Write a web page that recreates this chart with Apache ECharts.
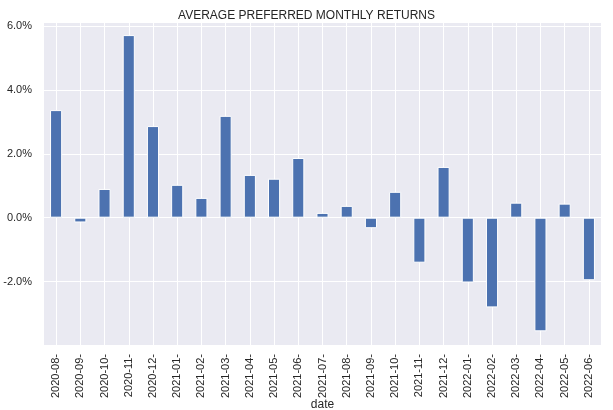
<!DOCTYPE html>
<html>
<head>
<meta charset="utf-8">
<script src="https://cdn.jsdelivr.net/npm/echarts@6/dist/echarts.min.js"></script>
<style>
html,body{margin:0;padding:0;background:#fff;}
#chart{width:613px;height:410px;}
</style>
</head>
<body>
<div id="chart"></div>
<script>
const categories = ['2020-08-','2020-09-','2020-10-','2020-11-','2020-12-','2021-01-','2021-02-','2021-03-','2021-04-','2021-05-','2021-06-','2021-07-','2021-08-','2021-09-','2021-10-','2021-11-','2021-12-','2022-01-','2022-02-','2022-03-','2022-04-','2022-05-','2022-06-'];
const returnsPct = [3.37,-0.15,0.90,5.72,2.87,1.03,0.62,3.19,1.34,1.22,1.87,0.15,0.37,-0.33,0.81,-1.41,1.59,-2.03,-2.81,0.47,-3.56,0.44,-1.96];
const yTicks = [-2, 0, 2, 4, 6];
const yMin = -4.02, yMax = 6.13;

const FONT = '"Liberation Sans", Arial, sans-serif';
const chart = echarts.init(document.getElementById('chart'), null, {renderer:'canvas'});
chart.setOption({
  animation: false,
  backgroundColor: '#ffffff',
  title: {
    text: 'AVERAGE PREFERRED MONTHLY RETURNS',
    left: 'center', top: 5,
    textStyle: {fontFamily: FONT, fontSize: 12, fontWeight: 'normal', color: '#262626'}
  },
  grid: {left: 44, right: 12, top: 22, bottom: 64, show: true, backgroundColor: '#EAEAF2', borderWidth: 0, containLabel: false, outerBoundsMode: 'none'},
  xAxis: {
    type: 'category',
    data: categories,
    boundaryGap: true,
    name: 'date', nameLocation: 'middle', nameGap: 53, nameMoveOverlap: false,
    nameTextStyle: {fontFamily: FONT, fontSize: 12, color: '#262626'},
    axisLine: {show: false}, axisTick: {show: false},
    axisLabel: {rotate: 90, interval: 0, margin: 8, fontFamily: FONT, fontSize: 11, color: '#262626'},
    splitLine: {show: true, alignWithLabel: true, lineStyle: {color: '#ffffff', width: 1}}
  },
  yAxis: {
    type: 'value',
    min: yMin, max: yMax, splitNumber: 5,
    axisLine: {show: false}, axisTick: {show: false},
    axisLabel: {
      margin: 12, fontFamily: FONT, fontSize: 11, color: '#262626',
      formatter: function (v) {
        for (const t of yTicks) { if (Math.abs(v - t) < 1e-6) return t.toFixed(1) + '%'; }
        return '';
      }
    },
    splitLine: {show: true, lineStyle: {color: '#ffffff', width: 1}}
  },
  series: [{
    type: 'bar',
    data: returnsPct,
    barWidth: '50%',
    itemStyle: {color: '#4C72B0', borderColor: '#ffffff', borderWidth: 1}
  }]
});
</script>
</body>
</html>
